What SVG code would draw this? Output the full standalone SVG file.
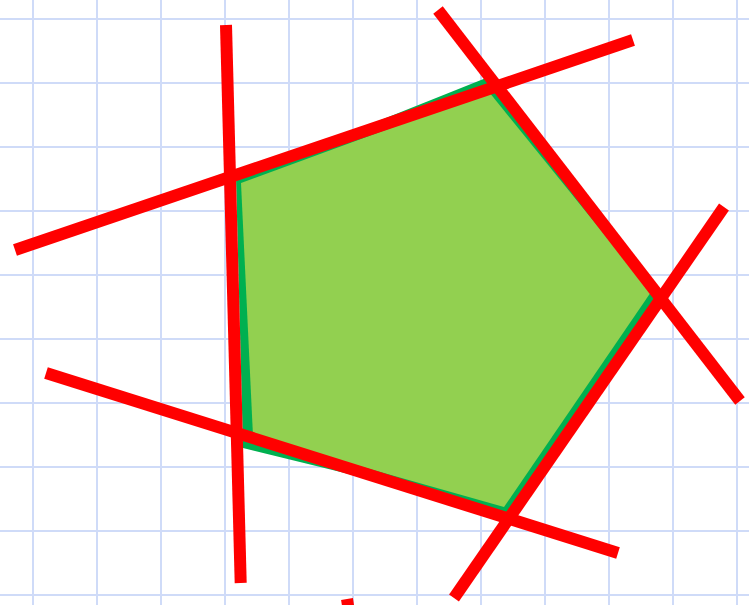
<svg xmlns="http://www.w3.org/2000/svg" width="749" height="605" viewBox="0 0 749 605">
<style>
.grid line{stroke:#cfdbf8;stroke-width:2}
.red line{stroke:#ff0000;stroke-width:12;stroke-linecap:butt}
</style>
<rect width="749" height="605" fill="#ffffff"/>
<g class="grid">
<line x1="33" y1="0" x2="33" y2="605"/>
<line x1="97" y1="0" x2="97" y2="605"/>
<line x1="161" y1="0" x2="161" y2="605"/>
<line x1="225" y1="0" x2="225" y2="605"/>
<line x1="289" y1="0" x2="289" y2="605"/>
<line x1="353" y1="0" x2="353" y2="605"/>
<line x1="417" y1="0" x2="417" y2="605"/>
<line x1="481" y1="0" x2="481" y2="605"/>
<line x1="545" y1="0" x2="545" y2="605"/>
<line x1="609" y1="0" x2="609" y2="605"/>
<line x1="673" y1="0" x2="673" y2="605"/>
<line x1="737" y1="0" x2="737" y2="605"/>
<line x1="0" y1="19" x2="749" y2="19"/>
<line x1="0" y1="83" x2="749" y2="83"/>
<line x1="0" y1="147" x2="749" y2="147"/>
<line x1="0" y1="211" x2="749" y2="211"/>
<line x1="0" y1="275" x2="749" y2="275"/>
<line x1="0" y1="339" x2="749" y2="339"/>
<line x1="0" y1="403" x2="749" y2="403"/>
<line x1="0" y1="467" x2="749" y2="467"/>
<line x1="0" y1="531" x2="749" y2="531"/>
<line x1="0" y1="595" x2="749" y2="595"/>
</g>
<g id="pentagon">
<polygon points="236,178 486,78 661,290 508,513 243,448" fill="#00b050"/>
<polygon points="241,183 489,92 651,292 504,507 253,436" fill="#92d050"/>
</g>
<g id="connectors" class="red">
<line x1="226" y1="25" x2="240.7" y2="583"/>
<line x1="15" y1="250" x2="633" y2="40"/>
<line x1="438" y1="10" x2="740" y2="401"/>
<line x1="724" y1="207" x2="454" y2="598"/>
<line x1="46" y1="373" x2="618" y2="553"/>
<line x1="347" y1="599" x2="349" y2="612"/>
</g>
</svg>
